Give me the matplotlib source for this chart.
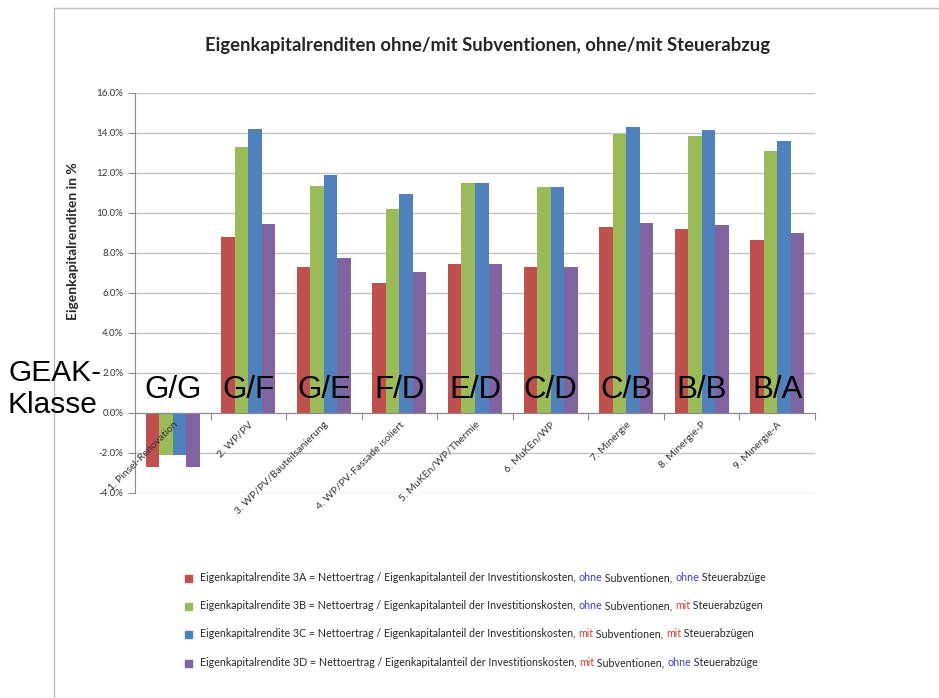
import numpy as np
import matplotlib.pyplot as plt
from matplotlib.lines import Line2D
from matplotlib.patches import Rectangle
from matplotlib.ticker import FuncFormatter

plt.rcParams['font.family'] = ['Lato', 'DejaVu Sans']

categories = ["1. Pinsel-Renovation", "2. WP/PV", "3. WP/PV/Bauteilsanierung",
              "4. WP/PV-Fassade isoliert", "5. MuKEn/WP/Thermie", "6. MuKEn/WP",
              "7. Minergie", "8. Minergie-P", "9. Minergie-A"]
geak_klassen = ["G/G", "G/F", "G/E", "F/D", "E/D", "C/D", "C/B", "B/B", "B/A"]

# Eigenkapitalrenditen in %
rendite_3a = [-2.7, 8.8, 7.3, 6.5, 7.45, 7.3, 9.3, 9.2, 8.65]
rendite_3b = [-2.1, 13.3, 11.35, 10.2, 11.5, 11.3, 13.95, 13.85, 13.1]
rendite_3c = [-2.1, 14.2, 11.9, 10.95, 11.5, 11.3, 14.3, 14.15, 13.6]
rendite_3d = [-2.7, 9.45, 7.75, 7.05, 7.45, 7.3, 9.5, 9.4, 9.0]

serien = [rendite_3a, rendite_3b, rendite_3c, rendite_3d]
farben = ['#C0504D', '#9BBB59', '#4F81BD', '#8064A2']

BLAU = '#3B3BD6'
ROT = '#E23A3A'
TXT = '#262626'
basis = "Eigenkapitalrendite {} = Nettoertrag / Eigenkapitalanteil der Investitionskosten, "
legende = [
    [(basis.format("3A"), TXT), ("ohne", BLAU), (" Subventionen, ", TXT), ("ohne", BLAU), (" Steuerabzüge", TXT)],
    [(basis.format("3B"), TXT), ("ohne", BLAU), (" Subventionen, ", TXT), ("mit", ROT), (" Steuerabzügen", TXT)],
    [(basis.format("3C"), TXT), ("mit", ROT), (" Subventionen, ", TXT), ("mit", ROT), (" Steuerabzügen", TXT)],
    [(basis.format("3D"), TXT), ("mit", ROT), (" Subventionen, ", TXT), ("ohne", BLAU), (" Steuerabzüge", TXT)],
]

W, H = 939, 698
fig = plt.figure(figsize=(W / 100, H / 100), dpi=100)
ax = fig.add_axes([135 / W, 1 - 493 / H, 680 / W, 400 / H])

x = np.arange(len(categories))
bw = 0.179
for k, (werte, farbe) in enumerate(zip(serien, farben)):
    ax.bar(x + (k - 1.5) * bw, werte, bw, color=farbe, linewidth=0, zorder=2)

ax.set_xlim(-0.5, len(categories) - 0.5)
ax.set_ylim(-4, 16)
yticks = np.arange(-4, 17, 2)
ax.set_yticks(yticks)
ax.yaxis.set_major_formatter(FuncFormatter(lambda v, p: f"{v:.1f}%"))
# Gitterlinien hinter den Balken, Achsenbeschriftung darüber
for yt in yticks:
    ax.axhline(yt, color='#C4C4C4', linewidth=1, zorder=0)
ax.set_axisbelow(False)

for s in ['top', 'right']:
    ax.spines[s].set_visible(False)
ax.spines['left'].set_color('#8C8C8C')
ax.spines['bottom'].set_color('#8C8C8C')
ax.spines['bottom'].set_position(('data', 0))

ax.set_xticks(np.arange(-0.5, len(categories), 1))
ax.set_xticklabels([])
ax.set_xticks(x, minor=True)
ax.set_xticklabels(categories, minor=True, rotation=45, ha='right', va='top',
                   rotation_mode='anchor', fontsize=7.5, color='#333333')
ax.tick_params(axis='x', which='major', length=5, color='#8C8C8C', direction='out')
ax.tick_params(axis='x', which='minor', length=0, pad=5)
ax.tick_params(axis='y', length=5, color='#8C8C8C', labelsize=7, labelcolor='#333333')

ax.set_ylabel("Eigenkapitalrenditen in %", fontsize=10, fontweight='bold', color='#262626')
ax.yaxis.set_label_coords(-0.083, 0.63)

# GEAK-Klassen über den Gruppen
for i, k in enumerate(geak_klassen):
    ax.text(i, 1.15, k, ha='center', va='center', fontsize=22.5,
            family='Liberation Sans', color='black', zorder=5)
fig.text(8 / W, 1 - 389 / H, "GEAK-\nKlasse", ha='left', va='center',
         fontsize=21.5, family='Liberation Sans', color='black')

fig.text(488 / W, 1 - 45 / H, "Eigenkapitalrenditen ohne/mit Subventionen, ohne/mit Steuerabzug",
         ha='center', va='center', fontsize=13.3, fontweight='bold', color='#262626')

# Rahmen
fig.add_artist(Line2D([54 / W, 54 / W], [0, 1 - 8 / H], color='#C0C0C0', lw=1))
fig.add_artist(Line2D([54 / W, 1], [1 - 8 / H, 1 - 8 / H], color='#C0C0C0', lw=1))

# Legende mit farbigen Wörtern, alle Teile auf derselben Grundlinie
renderer = fig.canvas.get_renderer()
zeilen_y = [578, 606, 634, 663]
for farbe, teile, yy in zip(farben, legende, zeilen_y):
    fy = 1 - yy / H
    fig.add_artist(Rectangle((185 / W, fy - 3.5 / H), 7 / W, 7 / H, color=farbe,
                             transform=fig.transFigure))
    xpos = 200
    for s, c in teile:
        t = fig.text(xpos / W, fy - 3 / H, s, color=c, fontsize=7.7, va='baseline')
        xpos += t.get_window_extent(renderer).width

fig.savefig("out.png", dpi=100)
